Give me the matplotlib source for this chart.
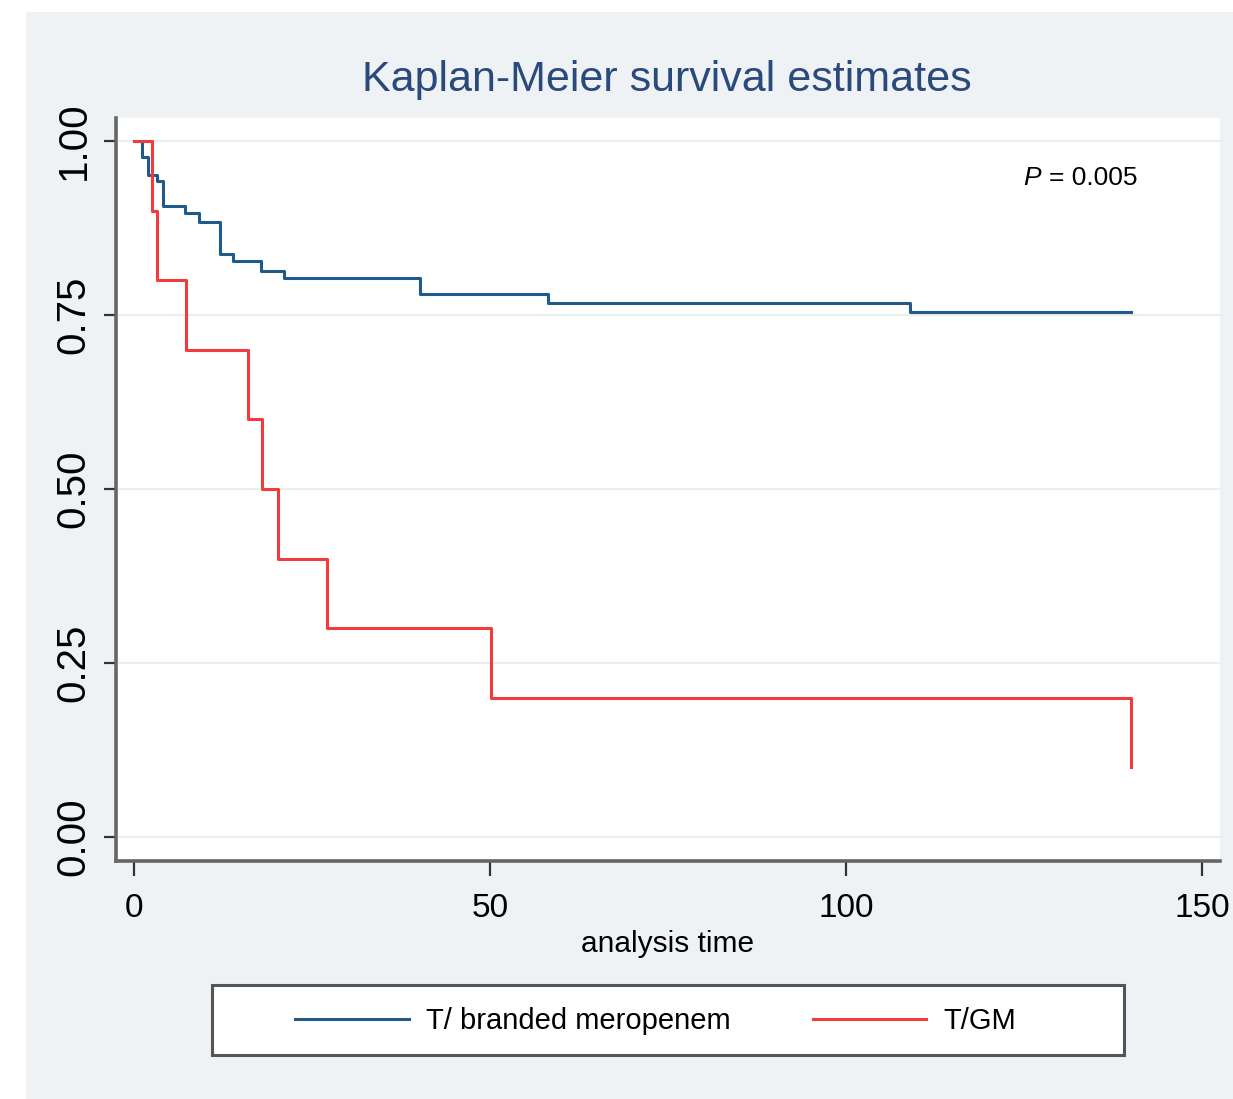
"""Kaplan-Meier survival estimates, two treatment arms."""
import numpy as np
import matplotlib
matplotlib.use("Agg")
import matplotlib.pyplot as plt
from matplotlib.patches import Rectangle
from matplotlib.lines import Line2D

plt.rcParams["font.family"] = ["Liberation Sans", "DejaVu Sans"]

# survival step data
blue_t = [0, 1.1, 2.0, 3.2, 4.1, 7.2, 9.1, 12.1, 13.9, 17.9, 21.1, 40.2, 58.1, 109.0, 140.0]
blue_s = [1.0, 0.977, 0.951, 0.942, 0.907, 0.896, 0.883, 0.837, 0.828, 0.813, 0.803,
          0.780, 0.767, 0.754, 0.754]
red_t = [0, 2.5, 3.2, 7.3, 16.0, 18.0, 20.2, 27.1, 50.1, 140.0]
red_s = [1.0, 0.9, 0.8, 0.7, 0.6, 0.5, 0.4, 0.3, 0.2, 0.1]
labels = ["T/ branded meropenem", "T/GM"]
x_ticks = [0, 50, 100, 150]
y_ticks = [0.0, 0.25, 0.5, 0.75, 1.0]
p_text = "= 0.005"

BLUE = "#1f5a8a"
RED = "#f03c3c"
BG = "#eef2f4"

fig = plt.figure(figsize=(12.33, 10.99), dpi=100)
fig.patches.append(Rectangle((26 / 1233, 0), 1, 1 - 12 / 1099, transform=fig.transFigure,
                             facecolor=BG, edgecolor="none", zorder=-10))

ax = fig.add_axes([116 / 1233, 1 - 861 / 1099, (1220 - 116) / 1233, (861 - 118) / 1099])
ax.set_facecolor("white")
ax.step(blue_t, blue_s, where="post", color=BLUE, lw=2.2, zorder=3)
ax.step(red_t, red_s, where="post", color=RED, lw=2.2, zorder=4)

ax.set_xlim(-2.53, 152.5)
ax.set_ylim(-0.0345, 1.033)
ax.set_xticks(x_ticks)
ax.set_yticks(y_ticks)
ax.set_yticklabels([f"{v:.2f}" for v in y_ticks], rotation=90, va="center")
ax.tick_params(axis="both", direction="out", length=9, width=1.6, color="#333333",
               labelsize=29, pad=8)
ax.tick_params(axis="x", length=11, labelsize=24, pad=12)
for side in ["top", "right"]:
    ax.spines[side].set_visible(False)
for side in ["left", "bottom"]:
    ax.spines[side].set_color("#666666")
    ax.spines[side].set_linewidth(2.6)
ax.grid(axis="y", color="#e8efee", lw=1.6)
ax.set_axisbelow(True)
ax.set_xlabel("analysis time", fontsize=21.5, labelpad=4)

ax.text(140.9, 0.947, p_text, ha="right", va="center", fontsize=19)
ax.text(127.3, 0.947, "P", ha="right", va="center", fontsize=19, style="italic")

fig.text(667 / 1233, 1 - 80 / 1099, "Kaplan-Meier survival estimates", ha="center",
         va="center", fontsize=31, color="#2b4a7c")

# legend box
fig.patches.append(Rectangle((212 / 1233, 1 - 1055 / 1099), 912 / 1233, 70 / 1099,
                             transform=fig.transFigure, facecolor="white",
                             edgecolor="#555555", lw=2.2, zorder=5))
handles = [Line2D([], [], color=BLUE, lw=2.2), Line2D([], [], color=RED, lw=2.2)]
fig.legend(handles, labels, loc="center left", bbox_to_anchor=(295 / 1233, 1 - 1021 / 1099),
           ncol=2, frameon=False, fontsize=21, handlelength=3.9, handletextpad=0.6,
           columnspacing=2.8, borderpad=0, borderaxespad=0).set_zorder(6)

fig.savefig("out.png", dpi=100)
